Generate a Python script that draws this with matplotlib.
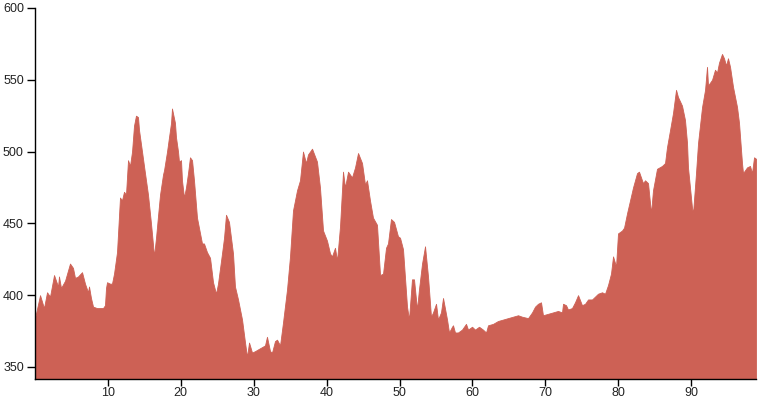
import matplotlib
matplotlib.use("Agg")
import matplotlib.pyplot as plt

plt.rcParams['font.family'] = ['Liberation Sans', 'DejaVu Sans']

km = [0, 0.69, 1.23, 1.65, 2.06, 2.61, 3.16, 3.29, 3.57, 4.12, 4.80, 5.21, 5.49, 5.90,
      6.45, 6.86, 7.27, 7.41, 7.68, 7.96, 8.50, 9.33, 9.60, 9.74, 9.88, 10.29, 10.56,
      10.84, 11.25, 11.66, 11.93, 12.21, 12.48, 12.76, 13.03, 13.31, 13.58, 13.85, 14.13,
      14.27, 14.68, 14.95, 15.50, 15.91, 16.19, 16.32, 16.60, 16.87, 17.15, 17.56, 17.70,
      18.11, 18.38, 18.66, 18.79, 19.20, 19.34, 19.62, 19.75, 20.03, 20.16, 20.44, 20.71,
      20.99, 21.26, 21.54, 21.81, 22.22, 22.91, 23.18, 23.59, 24.01, 24.42, 24.83, 25.10,
      25.65, 25.93, 26.20, 26.61, 27.16, 27.43, 27.85, 28.40, 28.81, 29.08, 29.36, 29.77,
      30.18, 30.86, 31.55, 31.82, 32.24, 32.51, 32.92, 33.20, 33.61, 34.02, 34.57, 34.98,
      35.39, 35.94, 36.35, 36.76, 37.17, 37.45, 38.00, 38.68, 39.09, 39.51, 40.05, 40.47,
      40.74, 41.15, 41.43, 41.84, 42.25, 42.52, 42.94, 43.48, 43.90, 44.31, 44.86, 45.27,
      45.54, 45.95, 46.36, 46.91, 47.33, 47.74, 48.15, 48.42, 48.83, 49.25, 49.79, 50.07,
      50.48, 51.03, 51.30, 51.71, 51.99, 52.40, 52.67, 53.09, 53.50, 53.91, 54.32, 54.60,
      55.01, 55.28, 55.69, 55.97, 56.52, 56.79, 57.20, 57.34, 57.61, 58.02, 58.57, 59.12,
      59.40, 59.95, 60.36, 60.91, 61.45, 61.87, 62.14, 62.83, 63.51, 64.20, 64.88, 65.57,
      66.26, 66.80, 67.63, 68.18, 68.59, 69.00, 69.41, 69.68, 70.37, 71.06, 71.74, 72.29,
      72.43, 72.84, 73.11, 73.66, 74.07, 74.49, 75.03, 75.45, 75.86, 76.41, 76.82, 77.23,
      77.78, 78.19, 78.60, 79.01, 79.29, 79.70, 79.97, 80.52, 80.80, 81.21, 81.62, 82.03,
      82.58, 82.85, 83.40, 83.68, 84.09, 84.50, 84.77, 85.32, 86.01, 86.42, 86.69, 87.11,
      87.52, 87.93, 88.20, 88.75, 89.16, 89.44, 89.57, 90.12, 90.26, 90.67, 90.95, 91.50,
      91.91, 92.18, 92.32, 92.87, 93.28, 93.55, 93.83, 94.24, 94.51, 94.79, 95.06, 95.34,
      95.75, 96.30, 96.57, 96.98, 97.12, 97.67, 98.08, 98.35, 98.63, 98.90]

elevation = [384, 400, 391, 402, 399, 414, 406, 413, 405, 410, 422, 419, 412, 413,
             416, 408, 402, 406, 398, 392, 391, 391, 393, 405, 409, 408, 408,
             415, 430, 468, 466, 472, 470, 494, 490, 500, 518, 525, 524,
             515, 500, 490, 470, 450, 435, 427, 440, 455, 470, 484, 487,
             500, 510, 520, 530, 520, 510, 500, 493, 494, 480, 468, 475,
             485, 496, 494, 480, 454, 436, 436, 430, 426, 409, 401, 408,
             429, 440, 456, 451, 429, 406, 397, 383, 367, 357, 367, 360,
             361, 363, 365, 371, 361, 360, 368, 369, 365, 381, 404, 427,
             459, 473, 480, 500, 492, 498, 502, 493, 475, 445, 438, 429,
             427, 433, 424, 448, 486, 475, 486, 482, 489, 499, 492, 477,
             480, 466, 454, 449, 414, 415, 433, 436, 453, 451, 441, 440,
             432, 392, 383, 411, 411, 390, 404, 422, 434, 413, 385, 388,
             394, 383, 388, 398, 383, 374, 378, 379, 374, 374, 376, 380,
             376, 378, 376, 378, 376, 374, 379, 380, 382, 383, 384, 385,
             386, 385, 384, 388, 392, 394, 395, 386, 387, 388, 389, 388,
             394, 393, 390, 391, 395, 400, 393, 394, 397, 397, 399, 401,
             402, 401, 407, 415, 427, 420, 443, 445, 447, 457, 466, 475,
             485, 486, 478, 480, 478, 457, 473, 488, 490, 492, 503, 515,
             527, 543, 538, 532, 522, 506, 489, 461, 457, 485, 506, 531,
             543, 559, 546, 550, 557, 555, 562, 568, 565, 560, 565, 559,
             545, 531, 520, 492, 485, 489, 490, 485, 496, 495]

x_ticks = [10, 20, 30, 40, 50, 60, 70, 80, 90]
y_ticks = [350, 400, 450, 500, 550, 600]

fig = plt.figure(figsize=(7.61, 4.00), dpi=100)
ax = fig.add_axes([35 / 761, 21 / 400, (756 - 35) / 761, (392 - 21) / 400])

y_min = 341.6
ax.fill_between(km, elevation, y_min, color='#cd6155', linewidth=0.6,
                edgecolor='#cd6155')

ax.set_xlim(0, 98.9)
ax.set_ylim(y_min, 600)
ax.set_xticks(x_ticks)
ax.set_yticks(y_ticks)

for side in ['top', 'right']:
    ax.spines[side].set_visible(False)
for side in ['left', 'bottom']:
    ax.spines[side].set_color('black')
    ax.spines[side].set_linewidth(1.0)

ax.tick_params(axis='both', direction='out', length=6, width=1, color='black',
               labelsize=9, labelcolor='#222222', pad=2)
ax.tick_params(axis='x', length=5, pad=0.5)

fig.savefig('out.png', dpi=100)
